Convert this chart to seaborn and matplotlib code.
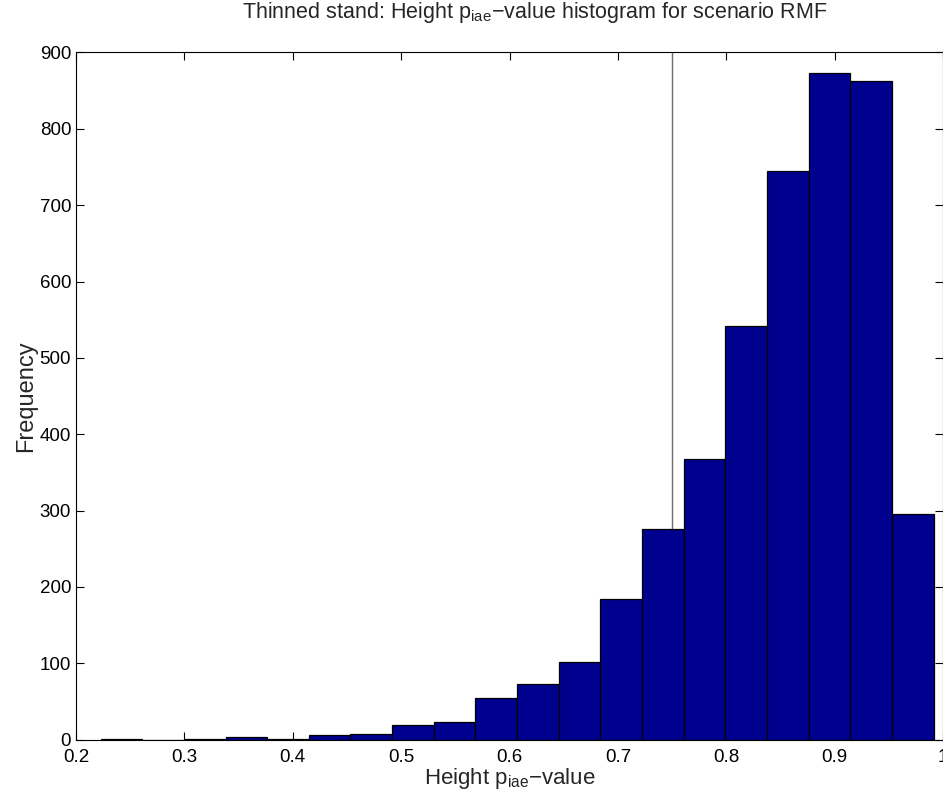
import numpy as np
import pandas as pd
import matplotlib
matplotlib.use("Agg")
import matplotlib.pyplot as plt
import matplotlib.ticker as ticker
import seaborn as sns

# Data (20 bins, MATLAB hist style)
bin_min = 0.2227
bin_max = 0.9913
n_bins = 20
counts = [1, 0, 1, 3, 1, 6, 8, 19, 23, 54,
          73, 102, 184, 276, 367, 542, 745, 873, 863, 296]
threshold = 0.75

x_ticks = [0.2, 0.3, 0.4, 0.5, 0.6, 0.7, 0.8, 0.9, 1.0]
y_ticks = [0, 100, 200, 300, 400, 500, 600, 700, 800, 900]

title = r"Thinned stand: Height p$_{\mathrm{iae}}$−value histogram for scenario RMF"
x_label = r"Height p$_{\mathrm{iae}}$−value"
y_label = "Frequency"

# Style
sns.set_style("white")
plt.rcParams["font.family"] = ["Liberation Sans", "DejaVu Sans"]
plt.rcParams["mathtext.fontset"] = "custom"
plt.rcParams["mathtext.rm"] = "Liberation Sans"
plt.rcParams["mathtext.it"] = "Liberation Sans:italic"

edges = np.linspace(bin_min, bin_max, n_bins + 1)
df = pd.DataFrame({
    "value": (edges[:-1] + edges[1:]) / 2,
    "count": counts,
})

fig = plt.figure(figsize=(9.43, 7.99), dpi=100)
ax = fig.add_axes([0.0806, 0.0742, 0.9194, 0.8601])

sns.histplot(data=df, x="value", weights="count", bins=list(edges), ax=ax,
             color="#00008F", edgecolor="black", linewidth=0.9, alpha=1.0)

ax.axvline(threshold, color="#6e6e6e", linewidth=1.0, zorder=0)

ax.set_xlim(0.2, 1.0)
ax.set_ylim(0, 900)
ax.set_xticks(x_ticks)
ax.set_yticks(y_ticks)
ax.xaxis.set_major_formatter(ticker.FuncFormatter(lambda v, p: f"{v:g}"))
ax.tick_params(direction="in", length=6, width=0.8, labelsize=13.5,
               top=True, right=True, bottom=True, left=True, colors="black")
ax.tick_params(axis="x", pad=7)

for s in ax.spines.values():
    s.set_visible(True)
    s.set_color("black")
    s.set_linewidth(0.8)

ax.set_xlabel(x_label, fontsize=16, labelpad=0)
ax.set_ylabel(y_label, fontsize=17, labelpad=2)
ax.set_title(title, fontsize=15.5, pad=25)
ax.title.set_x(0.529)

fig.savefig("out.png", dpi=100)
